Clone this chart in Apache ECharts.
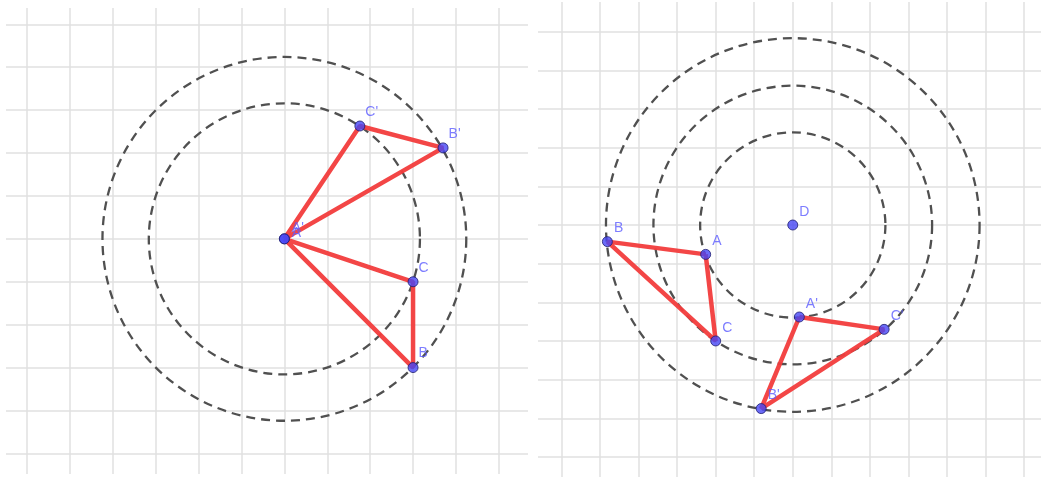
<!DOCTYPE html>
<html>
<head>
<meta charset="utf-8">
<script src="https://cdn.jsdelivr.net/npm/echarts@6/dist/echarts.min.js"></script>
<style>
  html, body { margin: 0; padding: 0; background: #fff; }
  #chart { width: 1041px; height: 477px; }
</style>
</head>
<body>
<div id="chart"></div>
<script>
// 左图：绕 A 旋转
let leftNames = ['A', 'B', 'C', "A'", "B'", "C'"]
let leftX = [0, 3, 3, 0, 3.7, 1.76]
let leftY = [0, -3, -1, 0, 2.12, 2.63]
let leftRadii = [3.16, 4.24]
let leftTriangles = [[0, 1, 2], [3, 4, 5]]

// 右图：绕 D 旋转
let rightNames = ['D', 'A', 'B', 'C', "A'", "B'", "C'"]
let rightX = [0, -2.26, -4.81, -2, 0.17, -0.82, 2.37]
let rightY = [0, -0.76, -0.43, -3, -2.38, -4.75, -2.7]
let rightRadii = [2.4, 3.61, 4.84]
let rightTriangles = [[1, 2, 3], [4, 5, 6]]

// 网格线位置
let leftXTicks = [-6, -5, -4, -3, -2, -1, 0, 1, 2, 3, 4, 5]
let leftYTicks = [-5, -4, -3, -2, -1, 0, 1, 2, 3, 4, 5]
let rightXTicks = [-6, -5, -4, -3, -2, -1, 0, 1, 2, 3, 4, 5, 6]
let rightYTicks = [-6, -5, -4, -3, -2, -1, 0, 1, 2, 3, 4, 5]

let myChart = echarts.init(document.getElementById('chart'))

let makeAxis = (idx, min, max, ticks) => ({
    type: 'value',
    gridIndex: idx,
    min: min,
    max: max,
    axisLine: { show: false },
    axisLabel: { show: false, customValues: ticks },
    axisTick: { show: false, customValues: ticks },
    splitLine: {
        show: true,
        showMinLine: true,
        showMaxLine: true,
        lineStyle: { color: '#e1e1e1', width: 1.5 }
    }
})

let circleSeries = (idx, cx, cy, radii) => ({
    type: 'custom',
    xAxisIndex: idx,
    yAxisIndex: idx,
    silent: true,
    z: 1,
    data: radii.map(r => [cx, cy, r]),
    renderItem: function (params, api) {
        let c = api.coord([api.value(0), api.value(1)])
        let s = api.size([api.value(2), api.value(2)])
        return {
            type: 'circle',
            shape: { cx: c[0], cy: c[1], r: (s[0] + s[1]) / 2 },
            style: { fill: 'none', stroke: '#505050', lineWidth: 2.3, lineDash: [9, 6] }
        }
    }
})

let triangleSeries = (idx, xs, ys, tri) => ({
    type: 'line',
    xAxisIndex: idx,
    yAxisIndex: idx,
    silent: true,
    z: 2,
    symbol: 'none',
    animation: false,
    lineStyle: { color: '#f23c3c', width: 4.5, opacity: 0.95 },
    data: tri.concat([tri[0]]).map(i => [xs[i], ys[i]])
})

let pointSeries = (idx, names, xs, ys, offsets) => ({
    type: 'scatter',
    xAxisIndex: idx,
    yAxisIndex: idx,
    silent: true,
    z: 3,
    symbolSize: 10,
    itemStyle: { color: '#4646f5', borderColor: '#1e1e70', borderWidth: 1 },
    label: {
        show: true,
        position: 'right',
        formatter: '{b}',
        color: '#5c5cff',
        fontSize: 14,
        fontFamily: 'Liberation Sans, Arial, sans-serif'
    },
    data: names.map((n, i) => ({
        name: n,
        value: [xs[i], ys[i]],
        label: { offset: offsets[n] || offsets.def }
    }))
})

let option = {
    backgroundColor: '#ffffff',
    animation: false,
    grid: [
        { left: 6, top: 8, width: 522, height: 466 },
        { left: 538, top: 2, width: 503, height: 475 }
    ],
    xAxis: [
        makeAxis(0, -6.49, 5.68, leftXTicks),
        makeAxis(1, -6.61, 6.44, rightXTicks)
    ],
    yAxis: [
        makeAxis(0, -5.48, 5.38, leftYTicks),
        makeAxis(1, -6.52, 5.77, rightYTicks)
    ],
    series: [
        circleSeries(0, leftX[0], leftY[0], leftRadii),
        circleSeries(1, rightX[0], rightY[0], rightRadii),
        triangleSeries(0, leftX, leftY, leftTriangles[0]),
        triangleSeries(0, leftX, leftY, leftTriangles[1]),
        triangleSeries(1, rightX, rightY, rightTriangles[0]),
        triangleSeries(1, rightX, rightY, rightTriangles[1]),
        pointSeries(0, leftNames, leftX, leftY, { def: [-5, -14], 'A': [-3, -6], "A'": [-3, -11] }),
        pointSeries(1, rightNames, rightX, rightY, { def: [-4, -13] })
    ]
}

myChart.setOption(option)
window.addEventListener('resize', function () {
    myChart.resize()
})
</script>
</body>
</html>
